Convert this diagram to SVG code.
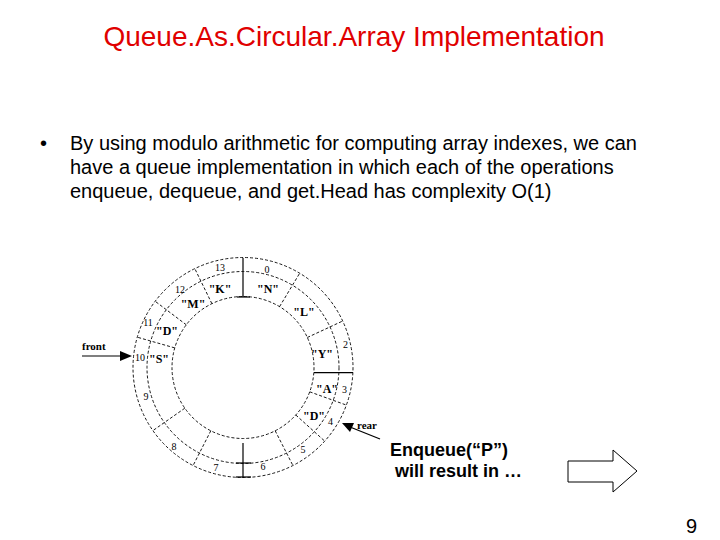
<svg xmlns="http://www.w3.org/2000/svg" width="720" height="540" viewBox="0 0 720 540">
<style>
.title{font-family:"Liberation Sans",Arial,sans-serif;font-size:28px;fill:#e00000}
.body{font-family:"Liberation Sans",Arial,sans-serif;font-size:20px;fill:#000}
.bold{font-family:"Liberation Sans",Arial,sans-serif;font-size:18px;font-weight:bold;fill:#000}
.ring{fill:none;stroke:#000;stroke-width:0.9;stroke-dasharray:3 2}
.solid{stroke:#000;stroke-width:1.2;fill:none}
.div{stroke:#000;stroke-width:0.9;stroke-dasharray:3 2}
.idx{font-family:"Liberation Serif","Times New Roman",serif;font-size:10px;fill:#000}
.val{font-family:"Liberation Serif","Times New Roman",serif;font-size:12px;font-weight:bold;fill:#000}
.lbl{font-family:"Liberation Serif","Times New Roman",serif;font-size:11px;font-weight:bold;fill:#000}
</style>
<rect width="720" height="540" fill="#fff"/>
<text class="title" x="354" y="46" text-anchor="middle">Queue.As.Circular.Array Implementation</text>
<g id="bullet">
<text class="body" x="40" y="150">•</text>
<text class="body" x="70" y="150">By using modulo arithmetic for computing array indexes, we can</text>
<text class="body" x="70" y="174">have a queue implementation in which each of the operations</text>
<text class="body" x="70" y="198">enqueue, dequeue, and get.Head has complexity O(1)</text>
</g>
<g id="ring">
<circle class="ring" cx="243" cy="367.5" r="110"/>
<circle class="ring" cx="243" cy="367.5" r="96"/>
<circle class="ring" cx="243" cy="367.5" r="71"/>
<line class="solid" x1="243" y1="258" x2="243" y2="297"/>
<line class="solid" x1="237" y1="297" x2="250" y2="297"/>
<line class="solid" x1="243" y1="443" x2="243" y2="478"/>
<line class="solid" x1="236" y1="463" x2="251" y2="463"/>
<line class="solid" x1="236" y1="477" x2="251" y2="477"/>
<line class="solid" x1="314" y1="372.7" x2="353" y2="372.7"/>
<line class="div" x1="279.6" y1="306.6" x2="299.7" y2="273.2"/>
<line class="div" x1="307.3" y1="337.5" x2="342.7" y2="321"/>
<line class="div" x1="309.7" y1="391.8" x2="346.4" y2="405.1"/>
<line class="div" x1="295.8" y1="415" x2="324.7" y2="441.1"/>
<line class="div" x1="275.2" y1="430.8" x2="292.9" y2="465.5"/>
<line class="div" x1="211.9" y1="303.7" x2="194.8" y2="268.6"/>
<line class="div" x1="186.3" y1="324.8" x2="155.2" y2="301.3"/>
<line class="div" x1="174.7" y1="347.9" x2="137.3" y2="337.2"/>
<line class="div" x1="184.8" y1="408.2" x2="152.9" y2="430.6"/>
<line class="div" x1="210.8" y1="430.8" x2="193.1" y2="465.5"/>
</g>
<g id="indexes">
<text class="idx" x="267" y="273" text-anchor="middle">0</text>
<text class="idx" x="343" y="348">2</text>
<text class="idx" x="342" y="393">3</text>
<text class="idx" x="328" y="425">4</text>
<text class="idx" x="303" y="453" text-anchor="middle">5</text>
<text class="idx" x="263" y="470" text-anchor="middle">6</text>
<text class="idx" x="216" y="471" text-anchor="middle">7</text>
<text class="idx" x="174" y="450" text-anchor="middle">8</text>
<text class="idx" x="146" y="400" text-anchor="middle">9</text>
<text class="idx" x="140" y="361" text-anchor="middle">10</text>
<text class="idx" x="148" y="326" text-anchor="middle">11</text>
<text class="idx" x="180" y="293" text-anchor="middle">12</text>
<text class="idx" x="220" y="271" text-anchor="middle">13</text>
</g>
<g id="values">
<text class="val" x="220" y="293" text-anchor="middle">"K"</text>
<text class="val" x="268" y="293" text-anchor="middle">"N"</text>
<text class="val" x="193" y="308" text-anchor="middle">"M"</text>
<text class="val" x="304" y="316" text-anchor="middle">"L"</text>
<text class="val" x="167" y="335" text-anchor="middle">"D"</text>
<text class="val" x="322" y="358" text-anchor="middle">"Y"</text>
<text class="val" x="159" y="363" text-anchor="middle">"S"</text>
<text class="val" x="327" y="393" text-anchor="middle">"A"</text>
<text class="val" x="314" y="420" text-anchor="middle">"D"</text>
</g>
<g id="front">
<text class="lbl" x="82" y="350">front</text>
<line class="solid" x1="82" y1="356" x2="122" y2="356" stroke-width="1.5"/>
<polygon points="120,351 132,356 120,361" fill="#000"/>
</g>
<g id="rear">
<text class="lbl" x="357" y="429">rear</text>
<line class="solid" x1="380" y1="439" x2="350" y2="427" stroke-width="1.5"/>
<polygon points="342,423 354,423 350,432" fill="#000"/>
</g>
<g id="enqueue">
<text class="bold" x="390" y="456">Enqueue(“P”)</text>
<text class="bold" x="395" y="477">will result in …</text>
</g>
<g id="blockarrow">
<polygon points="568,461 613,461 613,450 637,471 613,492 613,482 568,482" fill="#fff" stroke="#000" stroke-width="1"/>
</g>
<text class="body" x="686" y="533" font-size="16">9</text>
</svg>
